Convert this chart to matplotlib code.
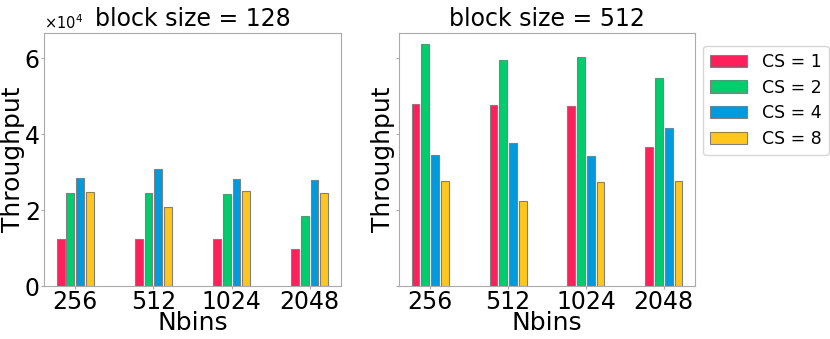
import numpy as np
import matplotlib
matplotlib.use("Agg")
import matplotlib.pyplot as plt

nbins = ["256", "512", "1024", "2048"]
cs_labels = ["CS = 1", "CS = 2", "CS = 4", "CS = 8"]
colors = ["#ff1f5b", "#00cd6c", "#009ade", "#ffc61e"]

# throughput, block size 128 (one list per CS)
bs128_cs1 = [12400, 12400, 12400, 9650]
bs128_cs2 = [24400, 24400, 24100, 18400]
bs128_cs4 = [28500, 30700, 28300, 27800]
bs128_cs8 = [24650, 20800, 25000, 24550]

# throughput, block size 512
bs512_cs1 = [47800, 47600, 47500, 36600]
bs512_cs2 = [63600, 59600, 60300, 54700]
bs512_cs4 = [34400, 37700, 34300, 41500]
bs512_cs8 = [27550, 22300, 27450, 27700]

panels = [
    ("block size = 128", [bs128_cs1, bs128_cs2, bs128_cs4, bs128_cs8]),
    ("block size = 512", [bs512_cs1, bs512_cs2, bs512_cs4, bs512_cs8]),
]

fig = plt.figure(figsize=(8.3, 3.39), dpi=100)
ax1 = fig.add_axes([0.053, 0.1563, 0.3578, 0.7463])
ax2 = fig.add_axes([0.4807, 0.1563, 0.3566, 0.7463], sharey=ax1)

x = np.arange(len(nbins))
w = 0.1
step = 0.125
for ax, (title, series) in zip([ax1, ax2], panels):
    for j, vals in enumerate(series):
        ax.bar(x + (j - 1.5) * step, vals, width=w, color=colors[j],
               edgecolor="gray", linewidth=0.8, label=cs_labels[j])
    ax.set_title(title, fontsize=17, pad=5)
    ax.set_xticks(x)
    ax.set_xticklabels(nbins, fontsize=17)
    ax.set_xlabel("Nbins", fontsize=18, labelpad=-2)
    ax.set_ylabel("Throughput", fontsize=18)
    ax.set_xlim(-0.4, 3.4)
    for s in ax.spines.values():
        s.set_color("#aaaaaa")
    ax.tick_params(axis="x", length=2, color="#aaaaaa", pad=1)
    ax.tick_params(axis="y", length=2, color="#aaaaaa", pad=1)

ax1.yaxis.set_label_coords(-0.063, 0.5)
ax2.yaxis.set_label_coords(-0.013, 0.5)

ax1.set_ylim(0, 66600)
ax1.set_yticks([0, 20000, 40000, 60000])
ax1.ticklabel_format(axis="y", style="sci", scilimits=(0, 0), useMathText=True)
ax1.tick_params(axis="y", labelsize=17)
ax1.yaxis.get_offset_text().set_fontsize(10.5)
ax2.tick_params(axis="y", labelleft=False)

ax2.legend(loc="upper left", bbox_to_anchor=(1.01, 0.97), fontsize=12.5,
           handlelength=2.1, handletextpad=0.9, labelspacing=0.45,
           borderaxespad=0.3)

fig.savefig("out.png", dpi=100)
